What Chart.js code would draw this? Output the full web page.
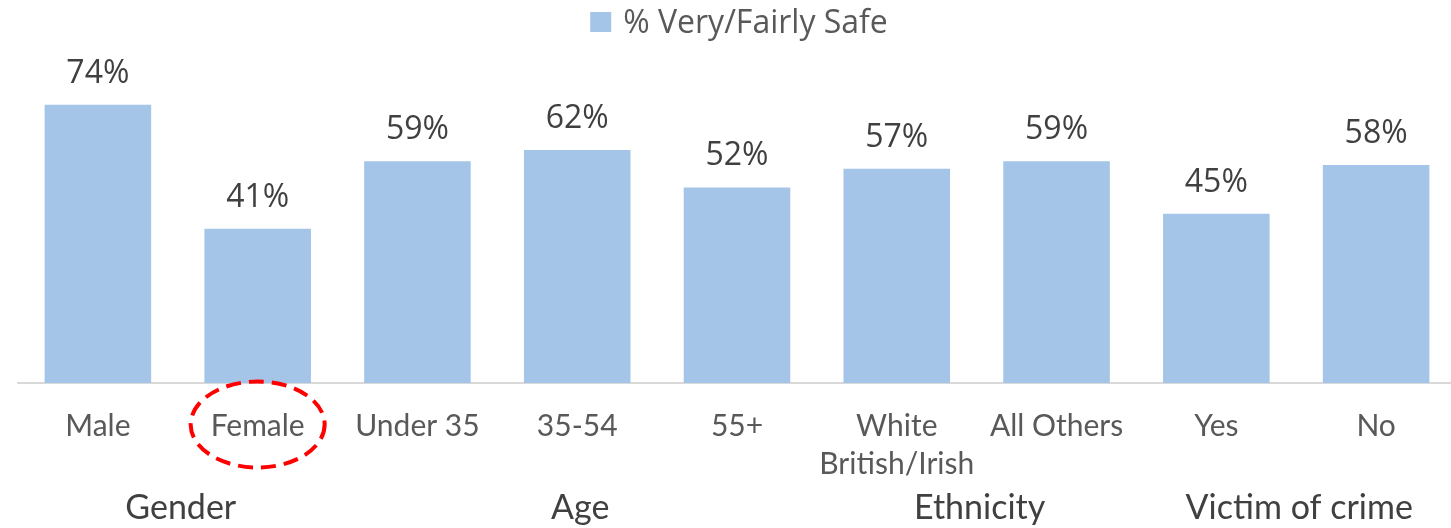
<!DOCTYPE html>
<html>
<head>
<meta charset="utf-8">
<script src="https://cdn.jsdelivr.net/npm/chart.js@4/dist/chart.umd.min.js"></script>
<style>
  html, body { margin: 0; padding: 0; background: #ffffff; overflow: hidden; }
  #wrap { width: 1451px; height: 528px; overflow: hidden; position: relative; }
  canvas { display: block; }
</style>
</head>
<body>
<div id="wrap"><canvas id="chart" width="1460" height="528"></canvas></div>
<script>
// Share of respondents feeling very or fairly safe, by respondent group
const seriesLabel = '% Very/Fairly Safe';
const categories = ['Male', 'Female', 'Under 35', '35-54', '55+', ['White', 'British/Irish'], 'All Others', 'Yes', 'No'];
const safeValues = [74, 41, 59, 62, 52, 57, 59, 45, 58];
const groupNames = ['Gender', 'Age', 'Ethnicity', 'Victim of crime'];
const groupFirst = [0, 2, 5, 7];
const groupLast = [1, 4, 6, 8];
const highlightIndex = 1;

const barColor = '#A5C5E8';

// Value labels above each bar
const valueLabels = {
  id: 'valueLabels',
  afterDatasetsDraw(chart) {
    const ctx = chart.ctx;
    const meta = chart.getDatasetMeta(0);
    ctx.save();
    ctx.font = '32px "Open Sans"';
    ctx.fillStyle = '#404040';
    ctx.textAlign = 'center';
    ctx.textBaseline = 'alphabetic';
    meta.data.forEach((bar, i) => {
      ctx.fillText(chart.data.datasets[0].data[i] + '%', bar.x, bar.y - 22);
    });
    ctx.restore();
  }
};

// Group captions under the category labels, legend and highlight ring
const extras = {
  id: 'extras',
  afterDraw(chart) {
    const ctx = chart.ctx;
    const xs = chart.scales.x;
    const area = chart.chartArea;
    ctx.save();

    // group captions, centred under the categories they cover
    ctx.font = '34px Lato';
    ctx.fillStyle = '#404040';
    ctx.textAlign = 'center';
    ctx.textBaseline = 'alphabetic';
    groupNames.forEach((name, g) => {
      const cx = (xs.getPixelForValue(groupFirst[g]) + xs.getPixelForValue(groupLast[g])) / 2 + 3;
      ctx.fillText(name, cx, area.bottom + 136);
    });

    // legend
    const ds = chart.data.datasets[0];
    ctx.font = '32px "Open Sans"';
    const tw = ctx.measureText(ds.label).width;
    const boxW = 21, gap = 12;
    const total = boxW + gap + tw;
    const lx = (area.left + area.right) / 2 + 2 - total / 2;
    ctx.fillStyle = ds.backgroundColor;
    ctx.fillRect(lx, 12, boxW, 20);
    ctx.fillStyle = '#595959';
    ctx.textAlign = 'left';
    ctx.fillText(ds.label, lx + boxW + gap, 33);

    // dashed ring around the highlighted category label
    const ex = xs.getPixelForValue(highlightIndex);
    const ey = area.bottom + 41.5;
    ctx.strokeStyle = '#FF0000';
    ctx.lineWidth = 4;
    ctx.setLineDash([15, 8]);
    ctx.beginPath();
    ctx.ellipse(ex, ey, 67, 43, 0, 0, Math.PI * 2);
    ctx.stroke();
    ctx.restore();
  }
};

new Chart(document.getElementById('chart'), {
  type: 'bar',
  data: {
    labels: categories,
    datasets: [{
      label: seriesLabel,
      data: safeValues,
      backgroundColor: barColor,
      borderWidth: 0,
      categoryPercentage: 1.0,
      barPercentage: 0.667
    }]
  },
  options: {
    responsive: false,
    animation: false,
    layout: { padding: { left: 18, right: 4, top: 7, bottom: 0 } },
    plugins: {
      legend: { display: false },
      tooltip: { enabled: false }
    },
    scales: {
      y: {
        display: false,
        min: 0,
        max: 100
      },
      x: {
        grid: { display: false, drawTicks: false },
        border: { display: true, color: '#D9D9D9', width: 2 },
        ticks: {
          color: '#595959',
          font: { family: 'Lato', size: 30, lineHeight: 1.27 },
          padding: 24,
          maxRotation: 0,
          autoSkip: false
        },
        afterFit(scale) { scale.height = 145; }
      }
    }
  },
  plugins: [valueLabels, extras]
});
</script>
</body>
</html>
